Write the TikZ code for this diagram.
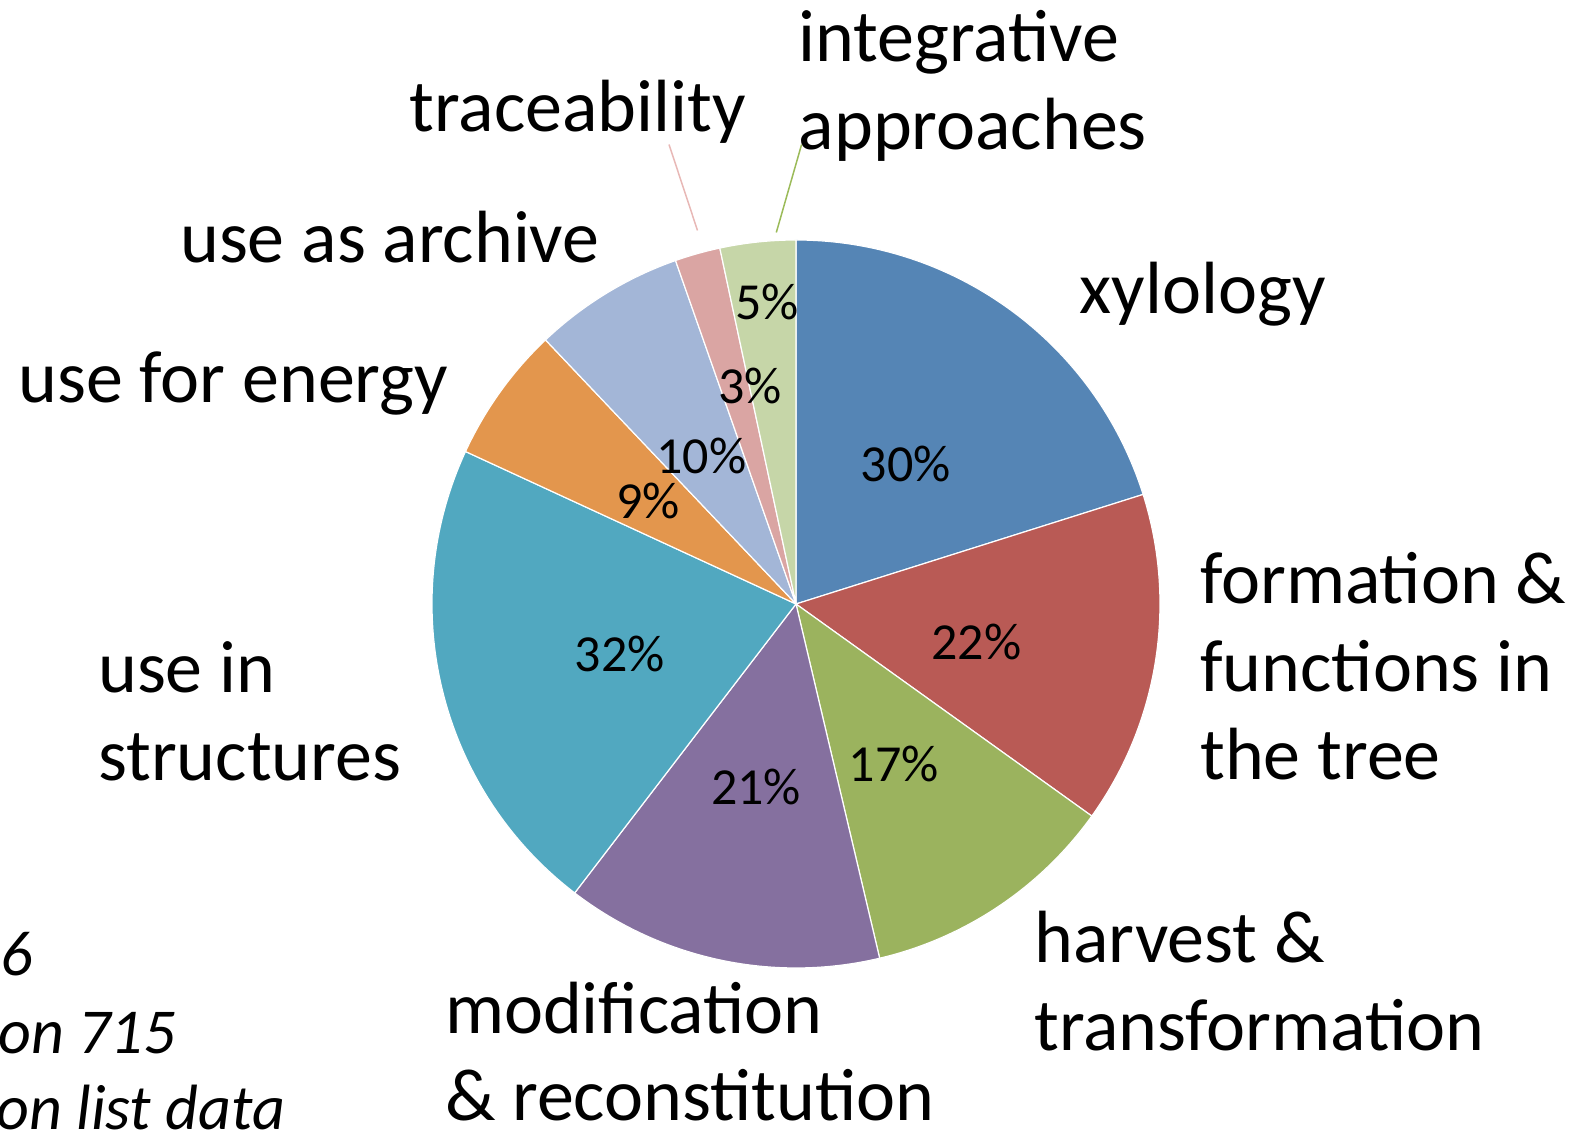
\documentclass[tikz,border=0pt]{standalone}
\usepackage{fontspec}
\setmainfont{Carlito}
\definecolor{cBlue}{HTML}{5585B5}
\definecolor{cRed}{HTML}{B95A55}
\definecolor{cGreen}{HTML}{9BB35E}
\definecolor{cPurple}{HTML}{85709F}
\definecolor{cAqua}{HTML}{51A8C0}
\definecolor{cOrange}{HTML}{E3964D}
\definecolor{cLBlue}{HTML}{A3B6D7}
\definecolor{cPink}{HTML}{DAA5A3}
\definecolor{cLGreen}{HTML}{C6D6A8}
\definecolor{cPinkLine}{HTML}{E8B8B6}
\definecolor{cGreenLine}{HTML}{9BBB59}
\begin{document}
\begin{tikzpicture}[x=1pt,y=1pt,
  slice/.style={draw=white, line width=1.2pt, line join=round},
  lbl/.style={font=\fontsize{74}{88}\selectfont, inner sep=0pt, anchor=base west, align=left},
  pct/.style={font=\fontsize{52}{62}\selectfont, inner sep=0pt, anchor=base},
  note/.style={font=\fontsize{64}{76}\selectfont\itshape, inner sep=0pt, anchor=base west},
  leader/.style={line width=1.5pt}]
\useasboundingbox (0,0) rectangle (1585,1138);
\coordinate (C) at (796,534);
\def\R{364}
% slices
\fill[cBlue, slice] (C) -- ++(90:\R) arc[start angle=90, end angle=17.517, radius=\R] -- cycle;
\fill[cRed, slice] (C) -- ++(17.517:\R) arc[start angle=17.517, end angle=-35.637, radius=\R] -- cycle;
\fill[cGreen, slice] (C) -- ++(-35.637:\R) arc[start angle=-35.637, end angle=-76.711, radius=\R] -- cycle;
\fill[cPurple, slice] (C) -- ++(-76.711:\R) arc[start angle=-76.711, end angle=-127.449, radius=\R] -- cycle;
\fill[cAqua, slice] (C) -- ++(-127.449:\R) arc[start angle=-127.449, end angle=-204.765, radius=\R] -- cycle;
\fill[cOrange, slice] (C) -- ++(-204.765:\R) arc[start angle=-204.765, end angle=-226.510, radius=\R] -- cycle;
\fill[cLBlue, slice] (C) -- ++(-226.510:\R) arc[start angle=-226.510, end angle=-250.671, radius=\R] -- cycle;
\fill[cPink, slice] (C) -- ++(-250.671:\R) arc[start angle=-250.671, end angle=-257.919, radius=\R] -- cycle;
\fill[cLGreen, slice] (C) -- ++(-257.919:\R) arc[start angle=-257.919, end angle=-270, radius=\R] -- cycle;
% percent labels
\node[pct] (p30) at (905.7,656.5) {30\%};
\node[pct] (p22) at (976.4,478.6) {22\%};
\node[pct] (p17) at (893.6,356.3) {17\%};
\node[pct] (p21) at (756,333.1) {21\%};
\node[pct] (p32) at (619.6,466.5) {32\%};
\node[pct] (p9) at (648,619) {9\%};
\node[pct] (p10) at (701.5,664.6) {10\%};
\node[pct] (p3) at (750,734.5) {3\%};
\node[pct] (p5) at (767,818.3) {5\%};
% category labels (anchor = baseline of last line)
\node[lbl] (integ) at (798.5,988.4) {integrative\\approaches};
\node[lbl] (trace) at (409.4,1006.6) {traceability};
\node[lbl] (archive) at (180,875) {use as archive};
\node[lbl] (xylo) at (1079.5,824.6) {xylology};
\node[lbl] (energy) at (18.2,735.7) {use for energy};
\node[lbl] (form) at (1200,358.7) {formation \&\\functions in\\the tree};
\node[lbl] (struct) at (98,357.7) {use in\\structures};
\node[lbl] (harv) at (1034,87.8) {harvest \&\\transformation};
\node[lbl] (modif) at (444.8,17) {modification\\\& reconstitution};
% cut-off note
\node[note] (n1) at (0,162.6) {6};
\node[note] (n2) at (-2,84.7) {on 715};
\node[note] (n3) at (-4,9) {on list data};
% leader lines
\coordinate (tA) at (669,993.5);
\coordinate (tB) at (697.5,907.5);
\coordinate (iA) at (801.6,993.5);
\coordinate (iB) at (776.3,905.5);
\draw[cPinkLine, leader] (tA) -- (tB);
\draw[cGreenLine, leader] (iA) -- (iB);
\end{tikzpicture}
\end{document}
